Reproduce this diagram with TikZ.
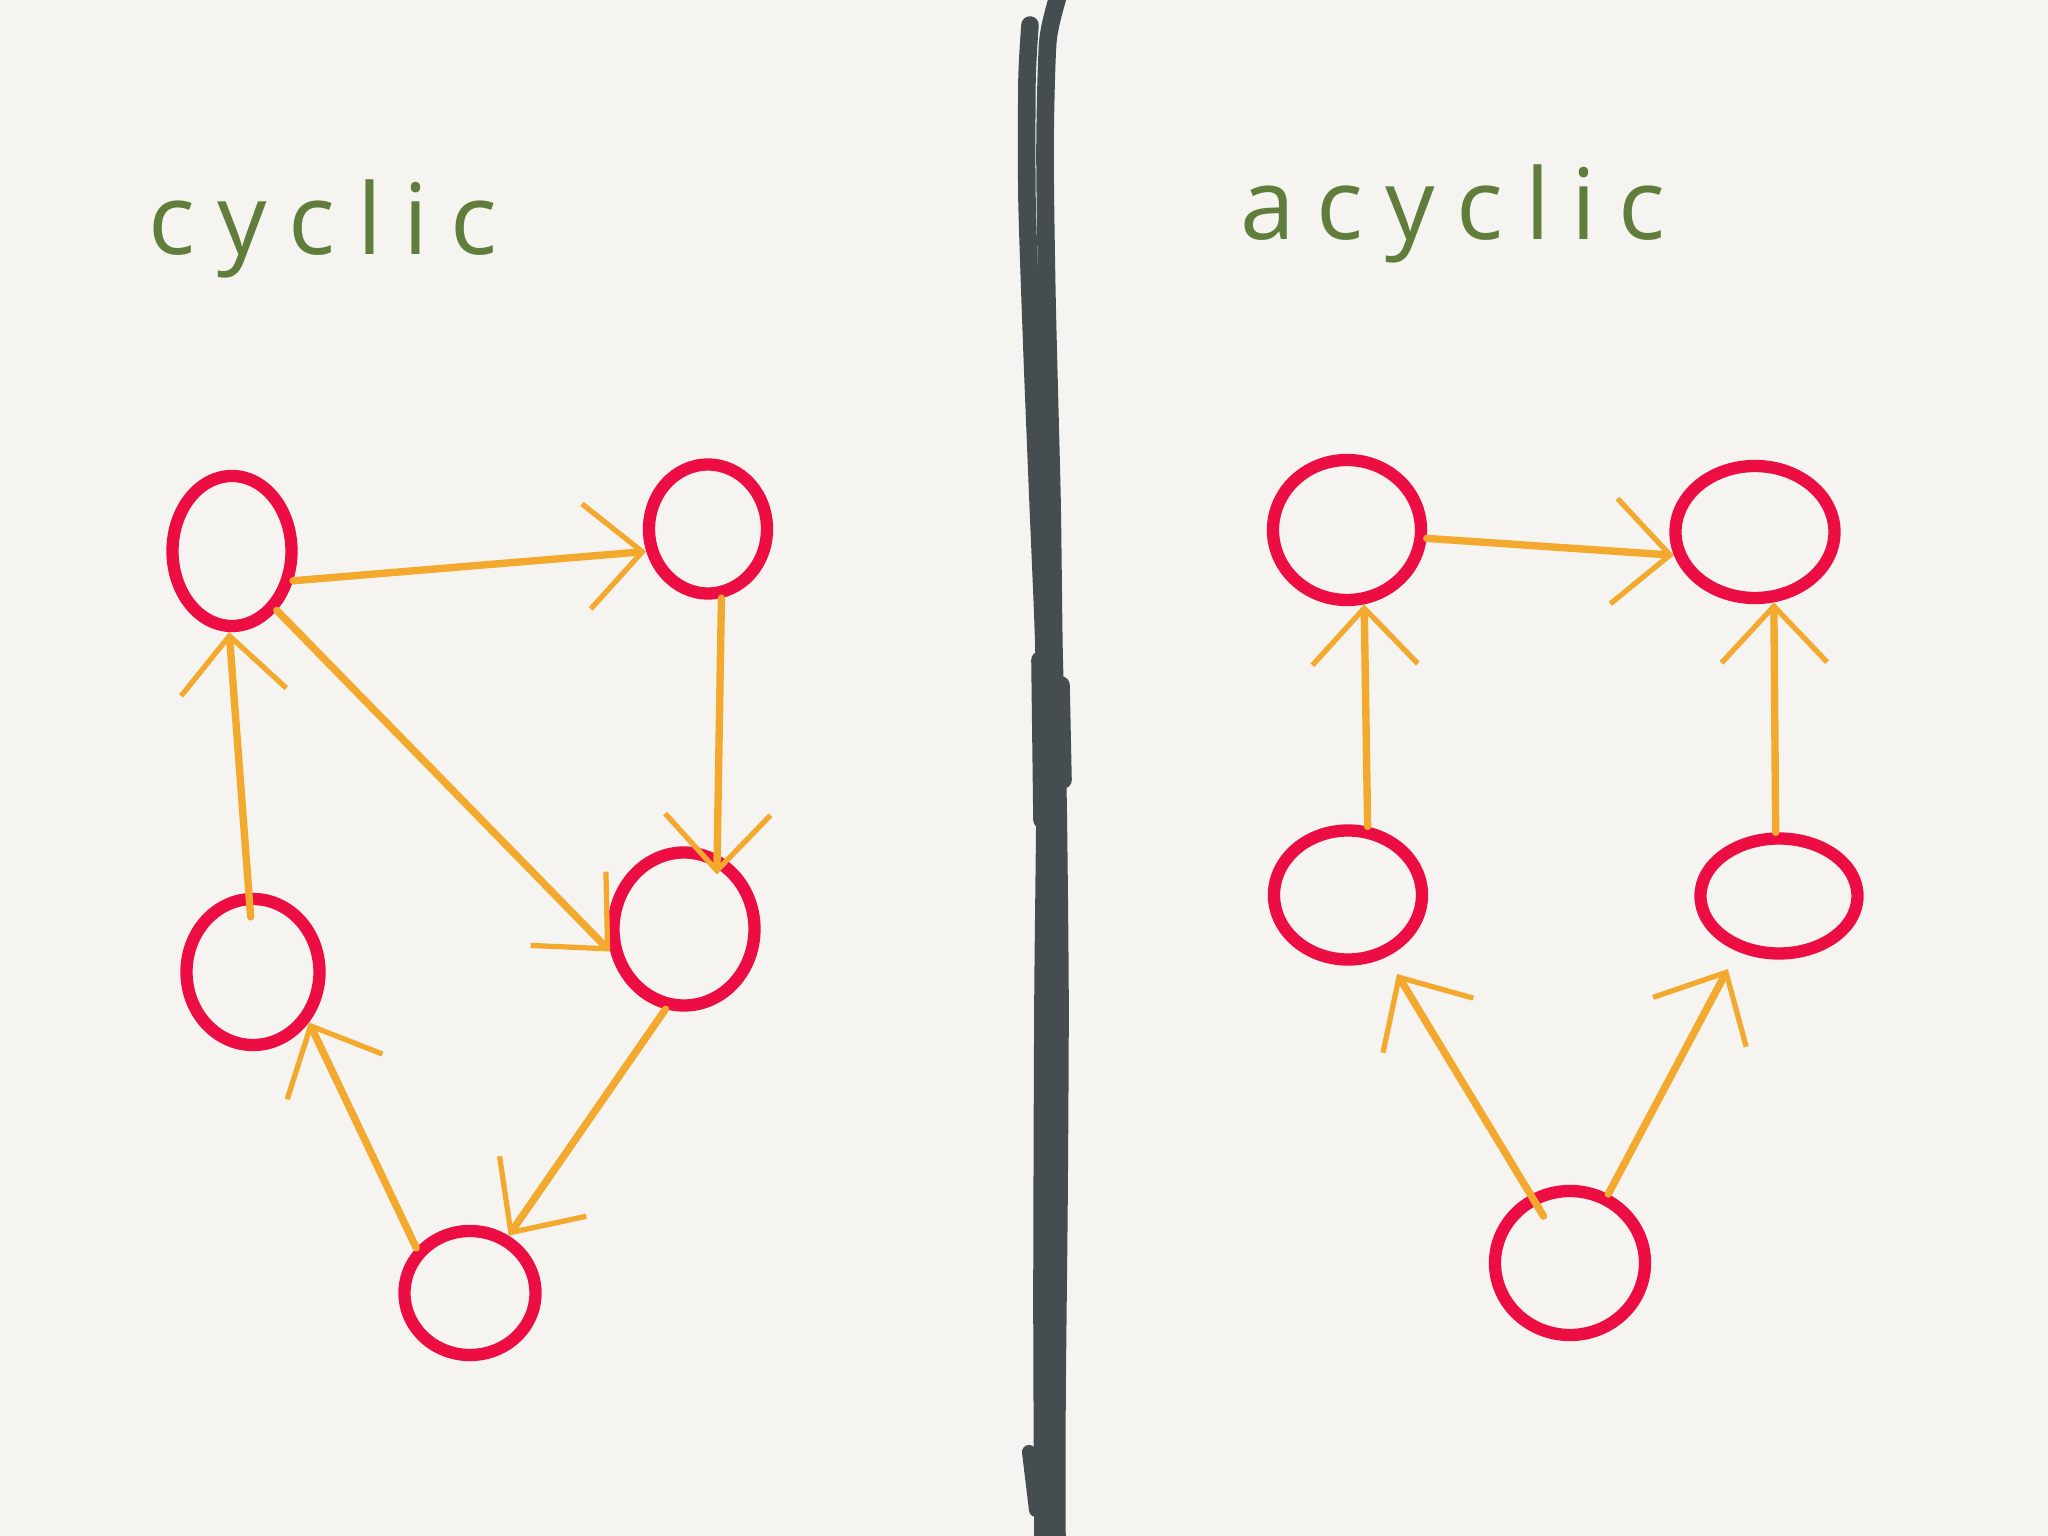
\documentclass[tikz,border=0pt]{standalone}
\usepackage{fontspec}
\setmainfont{Open Sans}
\usetikzlibrary{arrows.meta,shapes.geometric}
\definecolor{bgc}{HTML}{F5F4F0}
\definecolor{redc}{HTML}{EC0E43}
\definecolor{orc}{HTML}{F2A92D}
\definecolor{grc}{HTML}{607D3C}
\definecolor{divc}{HTML}{454D51}
\begin{document}
\begin{tikzpicture}[x=1cm,y=-1cm,
 vtx/.style={ellipse,draw=redc,line width=3.5pt,inner sep=0pt},
 arr/.style={draw=orc,line width=2.1pt,line cap=round,-{Straight Barb[length=16pt,width=30pt,line width=1.5pt]}},
 lbl/.style={text=grc,anchor=base,font=\fontsize{28}{30}\selectfont\addfontfeature{LetterSpace=22}},
 divider/.style={draw=divc,line width=5pt,line cap=round,line join=round}]
\fill[bgc] (0,0) rectangle (20.48,15.36);
\useasboundingbox (0,0) rectangle (20.48,15.36);

% divider
\draw[divider] plot[smooth,tension=0.4] coordinates {(10.30,0.25) (10.27,0.8) (10.27,2.0) (10.32,3.5) (10.38,5.0) (10.44,6.5) (10.45,8.0) (10.43,10.0) (10.42,13.0) (10.43,15.6)};
\draw[divider] plot[smooth,tension=0.4] coordinates {(10.60,-0.1) (10.48,0.4) (10.45,1.5) (10.47,3.0) (10.52,5.0) (10.54,6.5) (10.58,8.0) (10.60,10.0) (10.59,12.0) (10.57,14.0) (10.57,15.6)};
\draw[divider] (10.61,6.85) -- (10.63,7.8);
\draw[divider] (10.40,6.6) -- (10.42,8.2);
\draw[divider,line width=4pt] (10.29,14.52) -- (10.36,15.1);

% labels
\node[lbl] (t1) at (3.23,2.55) {cyclic};
\node[lbl] (t2) at (14.53,2.40) {acyclic};

% cyclic graph
\node[vtx,minimum width=1.19cm,minimum height=1.50cm] (A) at (2.32,5.51) {};
\node[vtx,minimum width=1.18cm,minimum height=1.29cm] (B) at (7.08,5.29) {};
\node[vtx,minimum width=1.41cm,minimum height=1.53cm] (C) at (6.84,9.29) {};
\node[vtx,minimum width=1.33cm,minimum height=1.46cm] (D) at (2.53,9.72) {};
\node[vtx,minimum width=1.31cm,minimum height=1.24cm] (E) at (4.70,12.93) {};

\draw[arr] (A.-26) -- (B.200);
\draw[arr,shorten >=-0.2cm] (B.-79) -- (C.66);
\draw[arr] (A.-53) -- (C.197);
\draw[arr] (C.-103) -- (E.56);
\draw[arr] (E.140) -- (D.-42);
\draw[arr,shorten <=-0.24cm] (D.93) -- (A.-92);

% acyclic graph
\node[vtx,minimum width=1.48cm,minimum height=1.40cm] (F) at (13.47,5.30) {};
\node[vtx,minimum width=1.59cm,minimum height=1.32cm] (G) at (17.55,5.32) {};
\node[vtx,minimum width=1.48cm,minimum height=1.29cm] (H) at (13.48,8.95) {};
\node[vtx,minimum width=1.57cm,minimum height=1.15cm] (I) at (17.79,8.96) {};
\node[vtx,minimum width=1.50cm,minimum height=1.44cm] (J) at (15.70,12.63) {};

\draw[arr] (F.-6) -- (G.196);
\draw[arr] (H.74) -- (F.-77);
\draw[arr] (I.93) -- (G.-75);
\draw[arr,shorten <=-0.25cm,shorten >=0.2cm] (J.120) -- (H.-58);
\draw[arr,shorten >=0.2cm] (J.61) -- (I.233);
\end{tikzpicture}
\end{document}
